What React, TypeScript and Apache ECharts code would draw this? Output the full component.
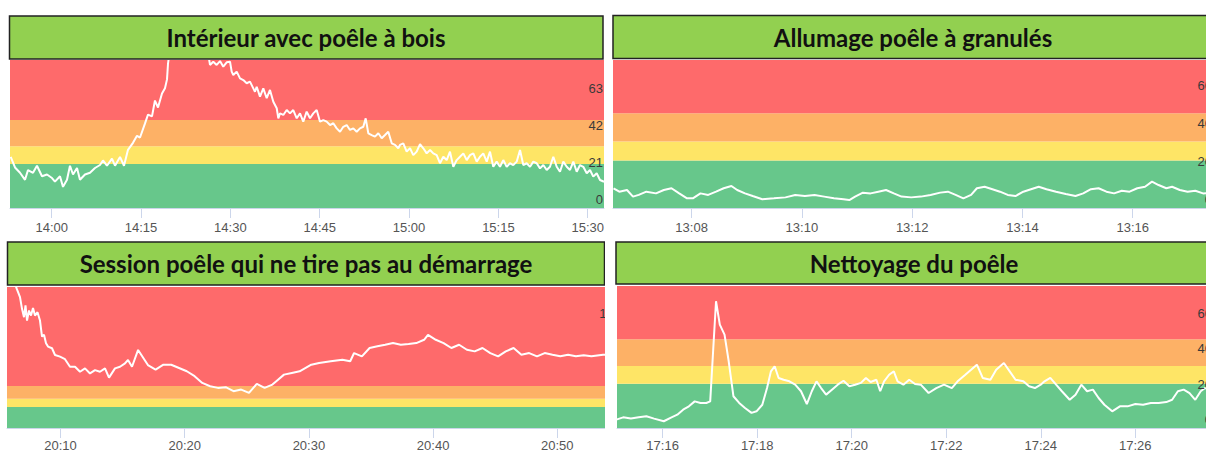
import React, { useEffect, useRef } from "react";
import * as echarts from "echarts";

// ---------- shared thresholds ----------
const BAND_LIMITS = [0, 25, 35, 50];
const BAND_COLORS = ["#67c78b", "#fee566", "#fdb166", "#fe6a6b"];

// ---------- panel 1 : Intérieur avec poêle à bois ----------
const P1_TITLE = "Intérieur avec poêle à bois";
const P1_START = "14:00";
const P1_TICKS = ["14:00", "14:15", "14:30", "14:45", "15:00", "15:15", "15:30"];
const P1_MINUTES = [
  -6.88, -6.16, -5.32, -4.48, -3.98, -3.14, -2.47, -1.63, -0.79, 0.05,
  0.55, 1.39, 1.9, 2.57, 3.07, 3.58, 4.25, 4.75, 5.59, 6.43,
  7.27, 8.11, 8.61, 9.28, 10.12, 10.63, 11.47, 12.14, 12.81, 13.65,
  14.32, 14.83, 15.67, 16.17, 16.84, 17.34, 17.85, 18.52, 19.02, 19.36,
  19.53, 19.86, 20.7, 23.2, 25.7, 26.25,
  26.58, 27.13, 27.7, 28.26, 28.81, 29.38, 29.94, 30.22, 30.49, 31.06,
  31.62, 32.17, 32.74, 33.29, 33.85, 34.13, 34.42, 34.97, 35.53, 36.1,
  36.65, 37.21, 37.78, 38.05, 38.33, 38.89, 39.46, 40.01, 40.56, 41.14,
  41.69, 42.24, 42.81, 43.37, 43.92, 44.49, 45.05, 45.6, 46.17, 46.73,
  47.28, 47.85, 48.41, 48.96, 49.53, 50.08, 50.64, 51.21, 51.76, 52.32,
  52.72, 53.16, 53.73, 54.28, 54.84, 55.41, 55.96, 56.51, 57.09, 57.64,
  58.19,
  58.48, 59.03, 59.6, 60.16, 60.71, 61.28, 61.84, 62.39, 62.96, 63.52,
  64.07, 64.64, 65.19, 65.75, 66.32, 66.87, 67.43, 68.0, 68.55, 69.11,
  69.68, 70.23, 70.79, 71.36, 71.91, 72.46, 73.04, 73.59, 74.14, 74.71,
  75.27, 75.82, 76.39, 76.95, 77.5, 78.07, 78.63, 79.18, 79.75, 80.31,
  80.86, 81.43, 81.99, 82.54, 83.11, 83.66, 84.22, 84.79, 85.34, 85.9,
  86.47, 87.02, 87.58, 88.15, 88.7, 89.25, 89.83, 90.38, 90.93, 91.5,
  92.06, 92.73,
];
const P1_VALUES = [
  29, 23, 20, 16, 21.5, 20, 24, 18, 19, 17,
  15, 18, 12, 16, 24, 19, 22.7, 16, 19, 20,
  22.7, 24.4, 27, 24, 28, 24, 29, 24, 33, 37,
  41, 40, 48, 53, 52, 61, 57, 65, 68, 73,
  82, 90, 100, 105, 95, 88,
  81.2, 83, 81.2, 83.4, 80.2, 82.7, 83, 77.4, 75.5, 77.4,
  73.6, 72.6, 70.8, 71.7, 67.9, 66, 68.8, 63.2, 67.9, 62.3,
  67, 60.3, 56.6, 50.9, 53.7, 52.8, 55.6, 53.7, 55.6, 50.9,
  53.7, 49, 54.7, 50.9, 53.7, 55.6, 49, 49.9, 49, 47.1,
  48.1, 45.2, 43.3, 46.1, 47.1, 44.3, 45.2, 43.3, 45.2, 46.1,
  50.9, 42.4, 41.4, 40.5, 42.4, 39.6, 41.4, 43.3, 36.7, 35.8,
  33.9,
  35.8, 36.7, 32, 33.9, 30, 32, 36.3, 33.9, 31, 32.9,
  31, 30, 25.4, 29.1, 27.2, 32, 23.4, 27.2, 29.1, 31,
  27.2, 30, 31, 26.3, 29.1, 31, 26.3, 32, 23.4, 26.3,
  23.4, 27.2, 23.4, 25.4, 24.4, 26.3, 32.9, 24.4, 25.4, 23.4,
  26.3, 25.4, 22.5, 24.4, 21.6, 23.4, 29.1, 23.4, 20.6, 26.3,
  23.4, 21.6, 26.3, 20.6, 24.4, 23.4, 19.7, 21.6, 17.8, 19.7,
  15.9, 14.9,
];

// ---------- panel 2 : Allumage poêle à granulés ----------
const P2_TITLE = "Allumage poêle à granulés";
const P2_START = "13:00";
const P2_TICKS = ["13:08", "13:10", "13:12", "13:14", "13:16"];
const P2_MINUTES = [
  6.584, 6.689, 6.828, 6.937, 7.041, 7.18, 7.354, 7.496, 7.635, 7.775,
  7.917, 8.022, 8.161, 8.301, 8.443, 8.582, 8.722, 8.827, 8.968, 9.108,
  9.282, 9.494, 9.703, 9.879, 10.055, 10.229, 10.405, 10.581, 10.755, 10.86,
  10.965, 11.107, 11.246, 11.386, 11.526, 11.667, 11.807, 11.983, 12.157, 12.333,
  12.509, 12.648, 12.788, 12.929, 13.069, 13.174, 13.314, 13.455, 13.593, 13.734,
  13.874, 14.016, 14.155, 14.295, 14.436, 14.61, 14.786, 14.962, 15.102, 15.242,
  15.381, 15.523, 15.662, 15.802, 15.943, 16.083, 16.223, 16.35, 16.469, 16.609,
  16.714, 16.854, 16.995, 17.135, 17.275, 17.457,
];
const P2_VALUES = [
  10.4, 8.6, 9.5, 6, 6.9, 8.6, 7.7, 9.5, 10.4, 7.7,
  5.1, 5.1, 7.7, 6.9, 8.6, 10.4, 11.6, 9.5, 7.7, 6.3,
  4.6, 5.1, 5.6, 6.9, 6.3, 6.9, 6, 5.1, 4.6, 4.2,
  6, 8.1, 7.7, 8.6, 9.5, 7.7, 6, 5.6, 6, 6.9,
  8.1, 8.6, 6.9, 5.1, 6.9, 10.4, 11.2, 9.9, 8.6, 6.9,
  6.3, 8.6, 9.9, 11.2, 9.9, 8.6, 7.4, 6.3, 7.7, 9.9,
  10.4, 8.6, 7.7, 9.1, 8.6, 10.4, 11.2, 13.9, 12.1, 10.4,
  11.2, 9.5, 8.6, 9.1, 7.7, 8,
];

// ---------- panel 3 : Session poêle qui ne tire pas au démarrage ----------
const P3_TITLE = "Session poêle qui ne tire pas au démarrage";
const P3_START = "20:00";
const P3_TICKS = ["20:10", "20:20", "20:30", "20:40", "20:50"];
const P3_MINUTES = [
  6.2, 6.473, 6.739, 6.9, 7.061, 7.182, 7.303, 7.464, 7.625, 7.786,
  7.947, 8.148, 8.349, 8.51, 8.671, 8.833, 8.994, 9.316, 9.557, 9.96,
  10.362, 10.765, 11.167, 11.57, 11.973, 12.375, 12.778, 13.18, 13.583, 13.905,
  14.388, 14.791, 15.193, 15.435, 15.757, 16.248, 17.037, 17.657, 18.285, 18.913,
  19.541, 20.169, 20.797, 21.417, 22.045, 22.673, 23.301, 23.929, 24.549, 25.177,
  25.805, 26.433, 27.061, 27.375, 27.995, 28.623, 29.251, 30.193, 30.821, 31.755,
  32.697, 33.325, 33.639, 34.267, 34.887, 35.515, 36.143, 36.771, 37.399, 38.027,
  38.647, 39.275, 39.589, 40.217, 40.845, 41.473, 42.093, 42.721, 43.349, 43.977,
  44.605, 45.233, 45.853, 46.481, 47.109, 47.737, 48.366, 48.986, 49.614, 50.242,
  50.87, 51.498, 52.126, 52.746, 53.688, 55.209,
];
const P3_VALUES = [
  178, 166, 156, 142, 132, 146, 128, 140, 134, 143,
  134, 138, 128, 109, 111, 101, 97, 95, 87, 85,
  82, 73, 73, 67, 71, 65, 69, 67, 71, 60,
  71, 73, 77, 81, 73, 93, 75, 69.5, 75.4, 75.4,
  71.5, 67.6, 61.7, 53.7, 49.8, 47.8, 48.6, 43.9, 45.8, 41.9,
  52.5, 47.8, 51.7, 55.8, 63.6, 65.6, 67.6, 75.4, 77.5, 79.5,
  81.4, 79.5, 89.3, 85.4, 95.3, 97.3, 99.2, 101.2, 99.2, 100,
  101.2, 105.1, 111, 105.1, 101.2, 95.3, 99.2, 93.2, 91.3, 95.3,
  89.3, 85.4, 91.3, 95.3, 87.3, 89.3, 85.4, 89.3, 87.3, 85.4,
  87.3, 85.4, 86.6, 85.4, 87.3, 86,
];

// ---------- panel 4 : Nettoyage du poêle ----------
const P4_TITLE = "Nettoyage du poêle";
const P4_START = "17:00";
const P4_TICKS = ["17:16", "17:18", "17:20", "17:22", "17:24", "17:26"];
const P4_MINUTES = [
  15.018, 15.166, 15.329, 15.494, 15.657, 15.82, 16.025, 16.188, 16.311, 16.434,
  16.556, 16.679, 16.802, 16.924, 17.007, 17.064, 17.13, 17.21, 17.31, 17.398,
  17.498, 17.62, 17.743, 17.881, 17.986, 18.109, 18.209, 18.291, 18.371, 18.454,
  18.56, 18.682, 18.805, 18.928, 19.051, 19.156, 19.256, 19.353, 19.459, 19.582,
  19.704, 19.827, 19.95, 20.072, 20.195, 20.301, 20.4, 20.523, 20.603, 20.686,
  20.792, 20.891, 20.971, 21.094, 21.217, 21.34, 21.462, 21.627, 21.79, 21.953,
  22.118, 22.241, 22.404, 22.526, 22.649, 22.772, 22.935, 23.057, 23.22, 23.343,
  23.466, 23.631, 23.753, 23.876, 23.999, 24.079, 24.202, 24.325, 24.447, 24.612,
  24.735, 24.858, 24.98, 25.103, 25.224, 25.346, 25.511, 25.674, 25.837, 26.002,
  26.165, 26.328, 26.493, 26.656, 26.779, 26.901, 27.024, 27.147, 27.269, 27.384,
  27.475, 27.644,
];
const P4_VALUES = [
  4.7, 6.0, 5.3, 6.0, 6.6, 5.3, 3.8, 6.0, 7.5, 10.3,
  12.2, 15.0, 14.1, 14.1, 15.0, 41.3, 71.4, 58.2, 52.6, 37.6,
  17.9, 14.1, 11.3, 8.5, 9.4, 13.1, 22.5, 31.9, 34.8, 28.2,
  27.2, 26.3, 24.4, 20.7, 13.5, 20.7, 26.3, 22.5, 18.8, 21.6,
  24.4, 26.6, 23.5, 24.4, 25.4, 28.2, 25.9, 27.2, 20.7, 26.3,
  30.0, 31.9, 26.3, 24.4, 27.2, 24.8, 24.4, 19.7, 22.5, 24.4,
  22.5, 26.3, 30.0, 32.8, 35.7, 28.2, 27.2, 32.8, 36.6, 31.9,
  27.2, 26.3, 23.5, 22.5, 24.4, 26.3, 28.2, 24.4, 20.7, 15.9,
  18.8, 24.4, 20.7, 21.6, 16.9, 13.1, 9.4, 12.2, 12.2, 13.5,
  13.1, 14.1, 14.1, 14.6, 15.9, 20.7, 21.6, 19.7, 15.9, 20.7,
  22.5, 22,
];

// ---------- helpers ----------
const toMin = (s: string) => {
  const [h, m] = s.split(":").map(Number);
  return h * 60 + m;
};
const fmtMin = (v: number) => {
  const t = Math.round(v);
  const h = Math.floor(t / 60);
  const m = t % 60;
  return h + ":" + (m < 10 ? "0" : "") + m;
};

type Panel = {
  title: string;
  start: string;
  ticks: string[];
  minutes: number[];
  values: number[];
  viewFrom: number;
  viewTo: number;
  yMax: number;
  yStep: number;
  clip: { left: number; top: number; width: number; height: number };
  chartW: number;
  chartH: number;
  grid: { left: number; top: number; width: number; height: number };
  bar: { x: number; y: number; w: number; h: number };
  titleX: number;
  titleY: number;
  xLabelMargin: number;
};

const PANELS: Panel[] = [
  {
    title: P1_TITLE, start: P1_START, ticks: P1_TICKS, minutes: P1_MINUTES, values: P1_VALUES,
    viewFrom: -7.0, viewTo: 92.73, yMax: 84, yStep: 21,
    clip: { left: 0, top: 0, width: 605, height: 238 }, chartW: 640, chartH: 238,
    grid: { left: 10, top: 60, width: 594, height: 148 },
    bar: { x: 9.5, y: 16, w: 593.5, h: 43 }, titleX: 306, titleY: 37.5, xLabelMargin: 13,
  },
  {
    title: P2_TITLE, start: P2_START, ticks: P2_TICKS, minutes: P2_MINUTES, values: P2_VALUES,
    viewFrom: 6.5745, viewTo: 17.456, yMax: 78, yStep: 20,
    clip: { left: 610, top: 0, width: 596, height: 238 }, chartW: 640, chartH: 238,
    grid: { left: 3, top: 60, width: 600, height: 148 },
    bar: { x: 3, y: 15.5, w: 660, h: 43 }, titleX: 303, titleY: 37, xLabelMargin: 13,
  },
  {
    title: P3_TITLE, start: P3_START, ticks: P3_TICKS, minutes: P3_MINUTES, values: P3_VALUES,
    viewFrom: 5.692, viewTo: 55.21, yMax: 168, yStep: 42,
    clip: { left: 0, top: 236, width: 605, height: 219 }, chartW: 640, chartH: 219,
    grid: { left: 7, top: 51, width: 615, height: 141 },
    bar: { x: 7.5, y: 6, w: 597, h: 43 }, titleX: 306, titleY: 27.5, xLabelMargin: 11,
  },
  {
    title: P4_TITLE, start: P4_START, ticks: P4_TICKS, minutes: P4_MINUTES, values: P4_VALUES,
    viewFrom: 15.035, viewTo: 27.644, yMax: 80, yStep: 20,
    clip: { left: 610, top: 236, width: 596, height: 219 }, chartW: 640, chartH: 219,
    grid: { left: 7, top: 50, width: 596, height: 142 },
    bar: { x: 6, y: 6, w: 660, h: 42 }, titleX: 304, titleY: 27, xLabelMargin: 11,
  },
];

function buildOption(p: Panel) {
  const base = toMin(p.start);
  const data = p.minutes.map((m, i) => [base + m, p.values[i]]);
  const tickVals = p.ticks.map(toMin);
  const bands = BAND_LIMITS.map((lo, i) => [
    { yAxis: lo, itemStyle: { color: BAND_COLORS[i], opacity: 1, borderWidth: 0 } },
    { yAxis: i + 1 < BAND_LIMITS.length ? BAND_LIMITS[i + 1] : p.yMax },
  ]);
  return {
    animation: false,
    textStyle: { fontFamily: "'Liberation Sans', Arial, sans-serif" },
    graphic: [
      {
        type: "rect",
        shape: { x: p.bar.x, y: p.bar.y, width: p.bar.w, height: p.bar.h },
        style: { fill: "#92d050", stroke: "#222222", lineWidth: 1.5 },
        z: 10,
      },
      {
        type: "text",
        x: p.titleX,
        y: p.titleY,
        style: {
          text: p.title,
          fill: "#111111",
          font: "bold 24px Lato, 'Open Sans', sans-serif",
          textAlign: "center",
          textVerticalAlign: "middle",
        },
        z: 11,
      },
    ],
    grid: { ...p.grid, containLabel: false },
    xAxis: {
      type: "value",
      min: base + p.viewFrom,
      max: base + p.viewTo,
      z: 8,
      axisLine: { show: true, lineStyle: { color: "#ccd6eb", width: 1 } },
      axisTick: { show: true, length: 10, lineStyle: { color: "#ccd6eb" }, customValues: tickVals },
      axisLabel: {
        customValues: tickVals,
        formatter: (v: number) => fmtMin(v),
        color: "#555555",
        fontSize: 13,
        margin: p.xLabelMargin,
      },
      splitLine: { show: false },
    },
    yAxis: {
      type: "value",
      position: "right",
      min: 0,
      max: p.yMax,
      interval: p.yStep,
      z: 8,
      axisLine: { show: false },
      axisTick: { show: false },
      splitLine: { show: false },
      axisLabel: {
        inside: true,
        margin: 1,
        color: "#3a3a3a",
        fontSize: 13,
        verticalAlign: "bottom",
        padding: [0, 0, 2, 0],
        showMaxLabel: false,
      },
    },
    series: [
      {
        type: "line",
        data,
        symbol: "none",
        silent: true,
        z: 1,
        lineStyle: { opacity: 0 },
        markArea: { silent: true, data: bands },
      },
      {
        type: "line",
        data,
        symbol: "none",
        silent: true,
        z: 5,
        lineStyle: { color: "#ffffff", width: 2 },
      },
    ],
  };
}

function ChartPanel({ p }: { p: Panel }) {
  const ref = useRef<HTMLDivElement>(null);
  useEffect(() => {
    if (!ref.current) return;
    const chart = echarts.init(ref.current, null, { renderer: "svg" });
    chart.setOption(buildOption(p) as any);
    return () => chart.dispose();
  }, [p]);
  return (
    <div
      style={{
        position: "absolute",
        left: p.clip.left,
        top: p.clip.top,
        width: p.clip.width,
        height: p.clip.height,
        overflow: "hidden",
      }}
    >
      <div ref={ref} style={{ position: "absolute", left: 0, top: 0, width: p.chartW, height: p.chartH }} />
    </div>
  );
}

export default function App() {
  return (
    <div
      style={{
        position: "fixed",
        left: 0,
        top: 0,
        width: 1206,
        height: 455,
        overflow: "hidden",
        background: "#ffffff",
      }}
    >
      {PANELS.map((p, i) => (
        <ChartPanel key={i} p={p} />
      ))}
    </div>
  );
}
